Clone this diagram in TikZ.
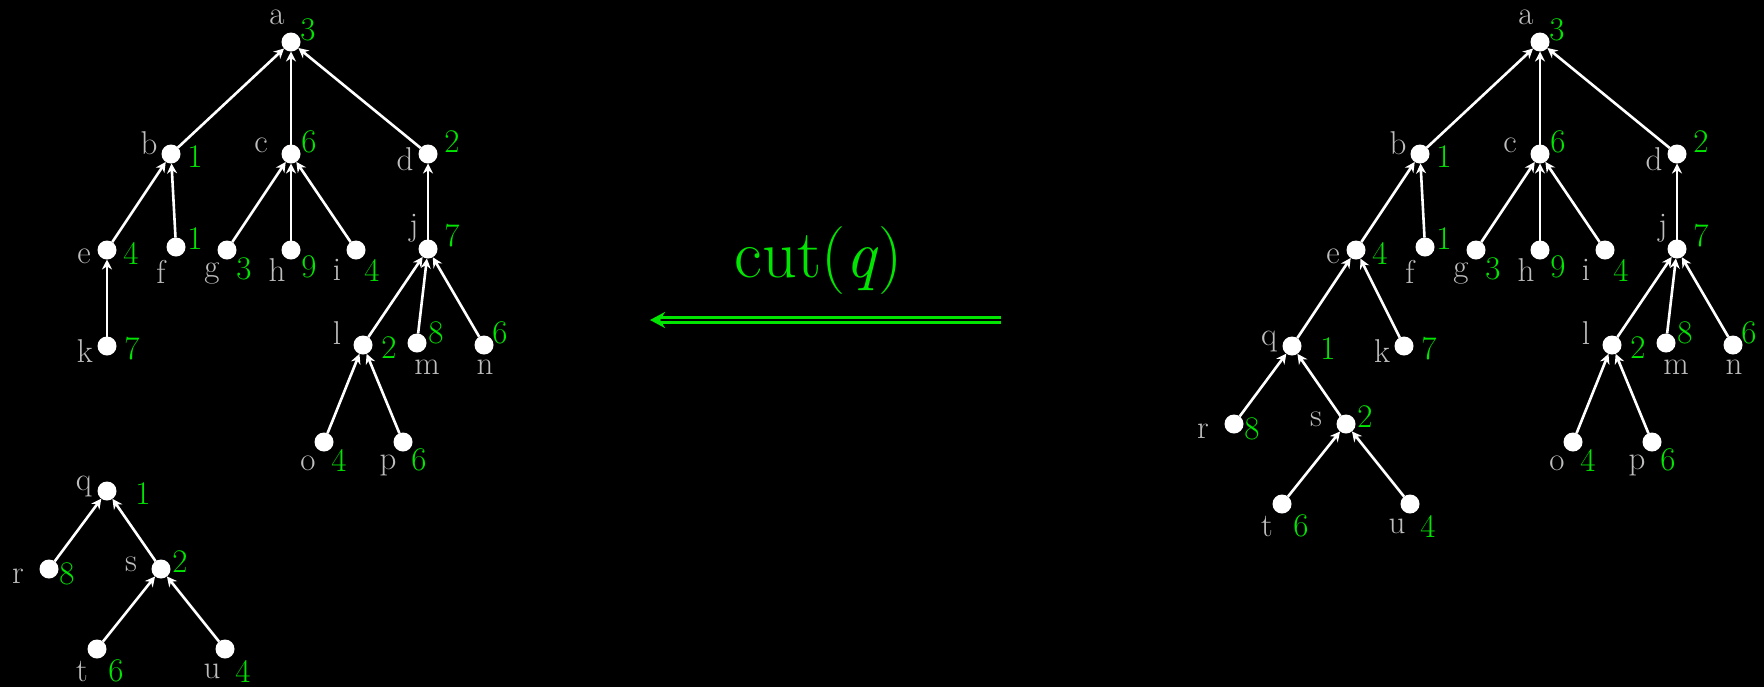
\documentclass[tikz,border=0pt]{standalone}
\usepackage{xcolor}
\usepackage{tikz}
\usetikzlibrary{arrows.meta, positioning}

\definecolor{lblgray}{RGB}{190,190,190}
\definecolor{valgreen}{RGB}{0,230,0}

\begin{document}
\begin{tikzpicture}[
  on grid,
  dot/.style={circle, fill=white, inner sep=0pt, outer sep=0pt, minimum size=9.5pt},
  lbl/.style={text=lblgray, inner sep=0pt, font=\fontsize{16.5}{16.5}\selectfont},
  num/.style={text=valgreen, inner sep=0pt, font=\fontsize{16.5}{16.5}\selectfont},
  lab/.style 2 args={label={[lbl, shift={#1}]center:#2}},
  val/.style 2 args={label={[num, shift={#1}]center:#2}},
  link/.style={draw=white, line width=1.3pt, -{Stealth[length=5pt, width=5pt]}},
  cutarrow/.style={draw=valgreen, line width=1.2pt, double=black, double distance=1.3pt, -{Stealth[length=7.5pt, width=8pt]}},
  cutlbl/.style={text=valgreen, font=\fontsize{34}{34}\selectfont}
]

\path[fill=black, use as bounding box] (0,0) rectangle (882pt,-343.5pt);

% Left: tree rooted at a
\node (a) [dot, lab={(-7pt,12.5pt)}{a}, val={(8.5pt,6pt)}{3}] at (145.5pt,-21pt) {};
\node (b) [dot, below left=56pt and 60pt of a, lab={(-11pt,5.5pt)}{b}, val={(12pt,-1.5pt)}{1}] {};
\node (c) [dot, below=56pt of a, lab={(-15pt,4.5pt)}{c}, val={(9pt,6pt)}{6}] {};
\node (d) [dot, below right=56pt and 68.5pt of a, lab={(-11.5pt,-2.5pt)}{d}, val={(12pt,6pt)}{2}] {};
\node (e) [dot, below left=48pt and 32pt of b, lab={(-11.5pt,-3pt)}{e}, val={(12pt,-1.5pt)}{4}] {};
\node (f) [dot, below right=46.5pt and 2.5pt of b, lab={(-7.5pt,-12.5pt)}{f}, val={(9.5pt,4pt)}{1}] {};
\node (g) [dot, below left=48pt and 32pt of c, lab={(-7.5pt,-11.5pt)}{g}, val={(8.5pt,-9.5pt)}{3}] {};
\node (h) [dot, below=48pt of c, lab={(-7pt,-10pt)}{h}, val={(9pt,-8.5pt)}{9}] {};
\node (i) [dot, below right=48pt and 32.5pt of c, lab={(-9.5pt,-10pt)}{i}, val={(8pt,-10pt)}{4}] {};
\node (j) [dot, below=47.5pt of d, lab={(-7pt,10.5pt)}{j}, val={(12pt,6.5pt)}{7}] {};
\node (k) [dot, below=48pt of e, lab={(-11pt,-2.5pt)}{k}, val={(12.5pt,-1.5pt)}{7}] {};
\node (l) [dot, below left=48pt and 32.5pt of j, lab={(-13pt,6pt)}{l}, val={(13pt,-1.5pt)}{2}] {};
\node (m) [dot, below left=47pt and 5.5pt of j, lab={(5pt,-12pt)}{m}, val={(9.5pt,5pt)}{8}] {};
\node (n) [dot, below right=48pt and 28pt of j, lab={(0.5pt,-11pt)}{n}, val={(8pt,6pt)}{6}] {};
\node (o) [dot, below left=48.5pt and 19.5pt of l, lab={(-8pt,-10.5pt)}{o}, val={(7.5pt,-9pt)}{4}] {};
\node (p) [dot, below right=48.5pt and 20pt of l, lab={(-7.5pt,-11.5pt)}{p}, val={(8pt,-9pt)}{6}] {};

% Left: tree rooted at q
\node (q) [dot, below=72.5pt of k, lab={(-11.5pt,2.5pt)}{q}, val={(18pt,-1.5pt)}{1}] {};
\node (r) [dot, below left=39pt and 29pt of q, lab={(-15.5pt,-3.5pt)}{r}, val={(9pt,-2.5pt)}{8}] {};
\node (s) [dot, below right=39pt and 27pt of q, lab={(-15pt,2.5pt)}{s}, val={(9.5pt,3.5pt)}{2}] {};
\node (t) [dot, below left=40pt and 32pt of s, lab={(-7.5pt,-11pt)}{t}, val={(9.5pt,-11pt)}{6}] {};
\node (u) [dot, below right=40pt and 32pt of s, lab={(-6.5pt,-11pt)}{u}, val={(9pt,-11pt)}{4}] {};

% Right: q hung below e
\node (ra) [dot, right=624.5pt of a, lab={(-7pt,12.5pt)}{a}, val={(8.5pt,6pt)}{3}] {};
\node (rb) [dot, below left=56pt and 60pt of ra, lab={(-11pt,5.5pt)}{b}, val={(12pt,-1.5pt)}{1}] {};
\node (rc) [dot, below=56pt of ra, lab={(-15pt,4.5pt)}{c}, val={(9pt,6pt)}{6}] {};
\node (rd) [dot, below right=56pt and 68.5pt of ra, lab={(-11.5pt,-2.5pt)}{d}, val={(12pt,6pt)}{2}] {};
\node (re) [dot, below left=48pt and 32pt of rb, lab={(-11.5pt,-3pt)}{e}, val={(12pt,-1.5pt)}{4}] {};
\node (rf) [dot, below right=46.5pt and 2.5pt of rb, lab={(-7.5pt,-12.5pt)}{f}, val={(9.5pt,4pt)}{1}] {};
\node (rg) [dot, below left=48pt and 32pt of rc, lab={(-7.5pt,-11.5pt)}{g}, val={(8.5pt,-9.5pt)}{3}] {};
\node (rh) [dot, below=48pt of rc, lab={(-7pt,-10pt)}{h}, val={(9pt,-8.5pt)}{9}] {};
\node (ri) [dot, below right=48pt and 32.5pt of rc, lab={(-9.5pt,-10pt)}{i}, val={(8pt,-10pt)}{4}] {};
\node (rj) [dot, below=47.5pt of rd, lab={(-7pt,10.5pt)}{j}, val={(12pt,6.5pt)}{7}] {};
\node (rk) [dot, below right=48pt and 24pt of re, lab={(-11pt,-2.5pt)}{k}, val={(12.5pt,-1.5pt)}{7}] {};
\node (rl) [dot, below left=48pt and 32.5pt of rj, lab={(-13pt,6pt)}{l}, val={(13pt,-1.5pt)}{2}] {};
\node (rm) [dot, below left=47pt and 5.5pt of rj, lab={(5pt,-12pt)}{m}, val={(9.5pt,5pt)}{8}] {};
\node (rn) [dot, below right=48pt and 28pt of rj, lab={(0.5pt,-11pt)}{n}, val={(8pt,6pt)}{6}] {};
\node (ro) [dot, below left=48.5pt and 19.5pt of rl, lab={(-8pt,-10.5pt)}{o}, val={(7.5pt,-9pt)}{4}] {};
\node (rp) [dot, below right=48.5pt and 20pt of rl, lab={(-7.5pt,-11.5pt)}{p}, val={(8pt,-9pt)}{6}] {};
\node (rq) [dot, below left=48pt and 32pt of re, lab={(-11.5pt,2.5pt)}{q}, val={(18pt,-1.5pt)}{1}] {};
\node (rr) [dot, below left=39pt and 29pt of rq, lab={(-15.5pt,-3.5pt)}{r}, val={(9pt,-2.5pt)}{8}] {};
\node (rs) [dot, below right=39pt and 27pt of rq, lab={(-15pt,2.5pt)}{s}, val={(9.5pt,3.5pt)}{2}] {};
\node (rt) [dot, below left=40pt and 32pt of rs, lab={(-7.5pt,-11pt)}{t}, val={(9.5pt,-11pt)}{6}] {};
\node (ru) [dot, below right=40pt and 32pt of rs, lab={(-6.5pt,-11pt)}{u}, val={(9pt,-11pt)}{4}] {};

% Edges, child to parent
\draw [link] (b) -- (a);
\draw [link] (c) -- (a);
\draw [link] (d) -- (a);
\draw [link] (e) -- (b);
\draw [link] (f) -- (b);
\draw [link] (g) -- (c);
\draw [link] (h) -- (c);
\draw [link] (i) -- (c);
\draw [link] (j) -- (d);
\draw [link] (k) -- (e);
\draw [link] (l) -- (j);
\draw [link] (m) -- (j);
\draw [link] (n) -- (j);
\draw [link] (o) -- (l);
\draw [link] (p) -- (l);
\draw [link] (r) -- (q);
\draw [link] (s) -- (q);
\draw [link] (t) -- (s);
\draw [link] (u) -- (s);

\draw [link] (rb) -- (ra);
\draw [link] (rc) -- (ra);
\draw [link] (rd) -- (ra);
\draw [link] (re) -- (rb);
\draw [link] (rf) -- (rb);
\draw [link] (rg) -- (rc);
\draw [link] (rh) -- (rc);
\draw [link] (ri) -- (rc);
\draw [link] (rj) -- (rd);
\draw [link] (rk) -- (re);
\draw [link] (rq) -- (re);
\draw [link] (rl) -- (rj);
\draw [link] (rm) -- (rj);
\draw [link] (rn) -- (rj);
\draw [link] (ro) -- (rl);
\draw [link] (rp) -- (rl);
\draw [link] (rr) -- (rq);
\draw [link] (rs) -- (rq);
\draw [link] (rt) -- (rs);
\draw [link] (ru) -- (rs);

% cut step
\coordinate (cutfrom) at (500.5pt,-160pt);
\coordinate (cutto) at (325pt,-160pt);
\draw [cutarrow] (cutfrom) -- (cutto) node[cutlbl, midway, yshift=29.5pt, xshift=-3.5pt] {cut(\textit{q})};
\end{tikzpicture}
\end{document}
